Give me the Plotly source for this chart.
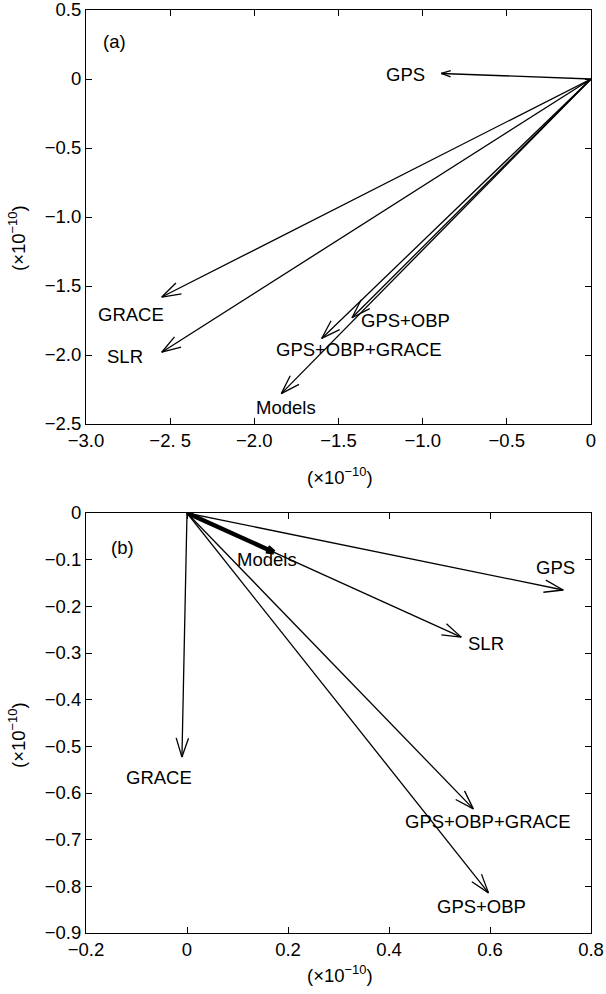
import numpy as np
import plotly.graph_objects as go

# ---------------- data ----------------
# panel (a)
a_names = ["GPS", "GRACE", "SLR", "GPS+OBP", "GPS+OBP+GRACE", "Models"]
a_x = [-0.89, -2.55, -2.55, -1.42, -1.60, -1.84]
a_y = [0.04, -1.58, -1.98, -1.73, -1.88, -2.28]
a_lab_x = [-1.10, -2.73, -2.77, -1.10, -1.38, -1.81]
a_lab_y = [0.03, -1.71, -2.01, -1.75, -1.96, -2.38]

# panel (b)
b_names = ["GPS", "SLR", "Models", "GRACE", "GPS+OBP+GRACE", "GPS+OBP"]
b_x = [0.745, 0.543, 0.172, -0.010, 0.567, 0.597]
b_y = [-0.165, -0.266, -0.084, -0.523, -0.634, -0.814]
b_lab_x = [0.729, 0.593, 0.158, -0.055, 0.597, 0.583]
b_lab_y = [-0.116, -0.279, -0.100, -0.566, -0.662, -0.844]

a_xticks = [-3.0, -2.5, -2.0, -1.5, -1.0, -0.5, 0]
a_xticktext = ["\u22123.0", "\u22122. 5", "\u22122.0", "\u22121.5", "\u22121.0", "\u22120.5", "0"]
a_yticks = [0.5, 0, -0.5, -1.0, -1.5, -2.0, -2.5]
a_yticktext = ["0.5", "0", "\u22120.5", "\u22121.0", "\u22121.5", "\u22122.0", "\u22122.5"]

b_xticks = [-0.2, 0, 0.2, 0.4, 0.6, 0.8]
b_xticktext = ["\u22120.2", "0", "0.2", "0.4", "0.6", "0.8"]
b_yticks = [0, -0.1, -0.2, -0.3, -0.4, -0.5, -0.6, -0.7, -0.8, -0.9]
b_yticktext = ["0"] + ["\u22120.%d" % i for i in range(1, 10)]

# ---------------- layout geometry ----------------
W, H = 606, 994


def px(v):
    return v / W


def py(v):
    return 1 - v / H


XDOM = [px(86), px(591)]
A_YDOM = [py(424), py(10)]
B_YDOM = [py(933), py(513)]
A_XR, A_YR = [-3.0, 0.0], [-2.5, 0.5]
B_XR, B_YR = [-0.2, 0.8], [-0.9, 0.0]

FONT = "Liberation Sans, Arial, sans-serif"
FS = 18.5


def scales(xr, yr, ydom):
    sx = (XDOM[1] - XDOM[0]) * W / (xr[1] - xr[0])
    sy = (ydom[1] - ydom[0]) * H / (yr[1] - yr[0])
    return sx, sy


def arrow_path(x1, y1, sx, sy, L, ang):
    # shaft from origin plus open V head computed in pixel space
    dx, dy = x1 * sx, y1 * sy
    n = np.hypot(dx, dy)
    ux, uy = dx / n, dy / n
    xs, ys = [0, x1, None], [0, y1, None]
    for s in (1, -1):
        c, si = np.cos(s * ang), np.sin(s * ang)
        rx, ry = ux * c - uy * si, ux * si + uy * c
        xs += [x1 - L * rx / sx, x1, None]
        ys += [y1 - L * ry / sy, y1, None]
    return xs, ys


fig = go.Figure()

# panel (a)
sxa, sya = scales(A_XR, A_YR, A_YDOM)
for name, x, y in zip(a_names, a_x, a_y):
    L = 10 if name == "GPS" else 20
    xs, ys = arrow_path(x, y, sxa, sya, L, np.radians(18))
    fig.add_trace(go.Scatter(x=xs, y=ys, mode="lines", name=name,
                             line=dict(color="black", width=1.3),
                             xaxis="x", yaxis="y", showlegend=False,
                             hoverinfo="skip"))

# panel (b)
sxb, syb = scales(B_XR, B_YR, B_YDOM)
for name, x, y in zip(b_names, b_x, b_y):
    thick = name == "Models"
    L = 8 if thick else 20
    xs, ys = arrow_path(x, y, sxb, syb, L, np.radians(18))
    fig.add_trace(go.Scatter(x=xs, y=ys, mode="lines", name=name,
                             line=dict(color="black", width=4.5 if thick else 1.3),
                             xaxis="x2", yaxis="y2", showlegend=False,
                             hoverinfo="skip"))

annotations = []
for name, lx, ly in zip(a_names, a_lab_x, a_lab_y):
    annotations.append(dict(x=lx, y=ly, xref="x", yref="y", text=name,
                            showarrow=False, font=dict(size=FS, color="black")))
for name, lx, ly in zip(b_names, b_lab_x, b_lab_y):
    annotations.append(dict(x=lx, y=ly, xref="x2", yref="y2", text=name,
                            showarrow=False, font=dict(size=FS, color="black")))

annotations.append(dict(x=-2.83, y=0.27, xref="x", yref="y", text="(a)",
                        showarrow=False, font=dict(size=FS, color="black")))
annotations.append(dict(x=-0.128, y=-0.073, xref="x2", yref="y2", text="(b)",
                        showarrow=False, font=dict(size=FS, color="black")))

unit = "(\u00d710<sup>\u221210</sup>)"
title_pos = [(340, 476, 0), (340, 974, 0), (17, 238, -90), (17, 735, -90)]
for tx, ty, ang in title_pos:
    annotations.append(dict(x=px(tx), y=py(ty), xref="paper", yref="paper",
                            text=unit, textangle=ang, showarrow=False,
                            xanchor="center", yanchor="middle",
                            font=dict(size=FS, color="black")))

axis_common = dict(showgrid=False, zeroline=False, showline=True,
                   linecolor="black", linewidth=1.2, mirror="ticks",
                   ticks="inside", ticklen=6, tickcolor="black",
                   tickfont=dict(size=FS, color="black"), fixedrange=True,
                   automargin=False, ticklabeloverflow="allow")

fig.update_layout(
    width=W, height=H,
    margin=dict(l=0, r=0, t=0, b=0),
    paper_bgcolor="white", plot_bgcolor="white",
    font=dict(family=FONT, size=FS, color="black"),
    xaxis=dict(domain=XDOM, range=A_XR, anchor="y", tickmode="array",
               tickvals=a_xticks, ticktext=a_xticktext, **axis_common),
    yaxis=dict(domain=A_YDOM, range=A_YR, anchor="x", tickmode="array",
               tickvals=a_yticks, ticktext=a_yticktext, **axis_common),
    xaxis2=dict(domain=XDOM, range=B_XR, anchor="y2", tickmode="array",
                tickvals=b_xticks, ticktext=b_xticktext, **axis_common),
    yaxis2=dict(domain=B_YDOM, range=B_YR, anchor="x2", tickmode="array",
                tickvals=b_yticks, ticktext=b_yticktext, **axis_common),
    annotations=annotations,
)

fig.write_html(
    "out.html",
    config={"displayModeBar": False},
    post_script="document.body.style.margin='0';document.body.style.overflow='hidden';",
)
